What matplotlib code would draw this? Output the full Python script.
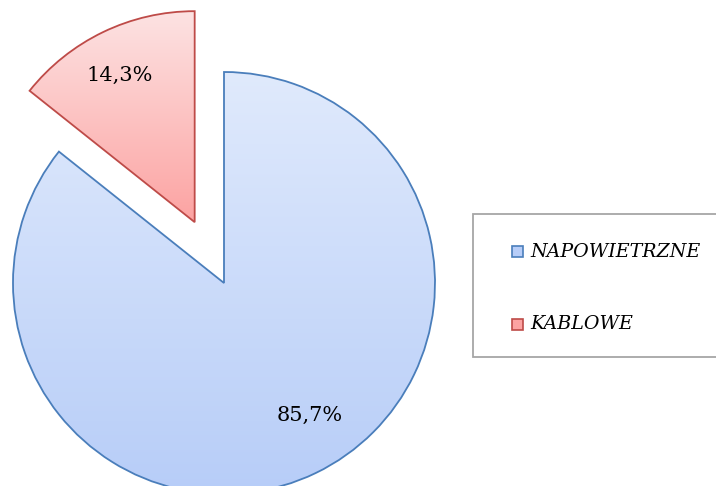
import numpy as np
import matplotlib
matplotlib.use('Agg')
import matplotlib.pyplot as plt
from matplotlib.colors import LinearSegmentedColormap
from matplotlib.patches import Rectangle

# dane
categories = ['NAPOWIETRZNE', 'KABLOWE']
shares = [85.7, 14.3]
label_texts = ['85,7%', '14,3%']

W, H = 716, 486
fig = plt.figure(figsize=(W / 100, H / 100), dpi=100)
ax = fig.add_axes([0, 0, 1, 1])

center = (224, H - 283)
radius = 211

# explode w matplotlib jest w jednostkach danych, nie promienia
wedges, _, autotexts = ax.pie(
    shares, startangle=90, counterclock=False, explode=[0, 0.32 * radius],
    center=center, radius=radius, autopct='%1.1f%%', pctdistance=0.76,
    wedgeprops=dict(linewidth=1.3), textprops=dict(family='DejaVu Serif', fontsize=15))

ax.set_xlim(0, W)
ax.set_ylim(0, H)
ax.set_aspect('equal')
ax.axis('off')

edge_cols = ['#4a7ebb', '#be4b48']
grads = [('#e0eafc', '#b7cdf8'), ('#fde3e3', '#fca3a2')]
for w, ec, (c_top, c_bot) in zip(wedges, edge_cols, grads):
    w.set_facecolor('none')
    w.set_edgecolor(ec)
    w.set_zorder(3)
    x0, y0, x1, y1 = w.get_path().get_extents(w.get_patch_transform()).extents
    cmap = LinearSegmentedColormap.from_list('g', [c_bot, c_top])
    grad = np.linspace(0, 1, 256).reshape(-1, 1)
    im = ax.imshow(grad, cmap=cmap, extent=[x0, x1, y0, y1], origin='lower',
                   aspect='auto', zorder=2)
    im.set_clip_path(w)

for t, s in zip(autotexts, label_texts):
    t.set_text(s)
    t.set_zorder(5)
autotexts[0].set_position((310, H - 415))
autotexts[1].set_position((120, H - 75))

# legenda
ax.add_patch(Rectangle((473, H - 357), 260, 143, facecolor='white',
                       edgecolor='#a6a6a6', linewidth=1.3, zorder=4))
leg_y = [H - 252, H - 324]
for cat, y, ec, (c_top, c_bot) in zip(categories, leg_y, edge_cols, grads):
    ax.add_patch(Rectangle((512, y - 5.5), 11, 11, facecolor=c_bot,
                           edgecolor=ec, linewidth=1.2, zorder=5))
    ax.text(530, y, cat, fontsize=13.7, family='DejaVu Serif', style='italic',
            va='center', ha='left', zorder=5)

fig.savefig('out.png', dpi=100)
